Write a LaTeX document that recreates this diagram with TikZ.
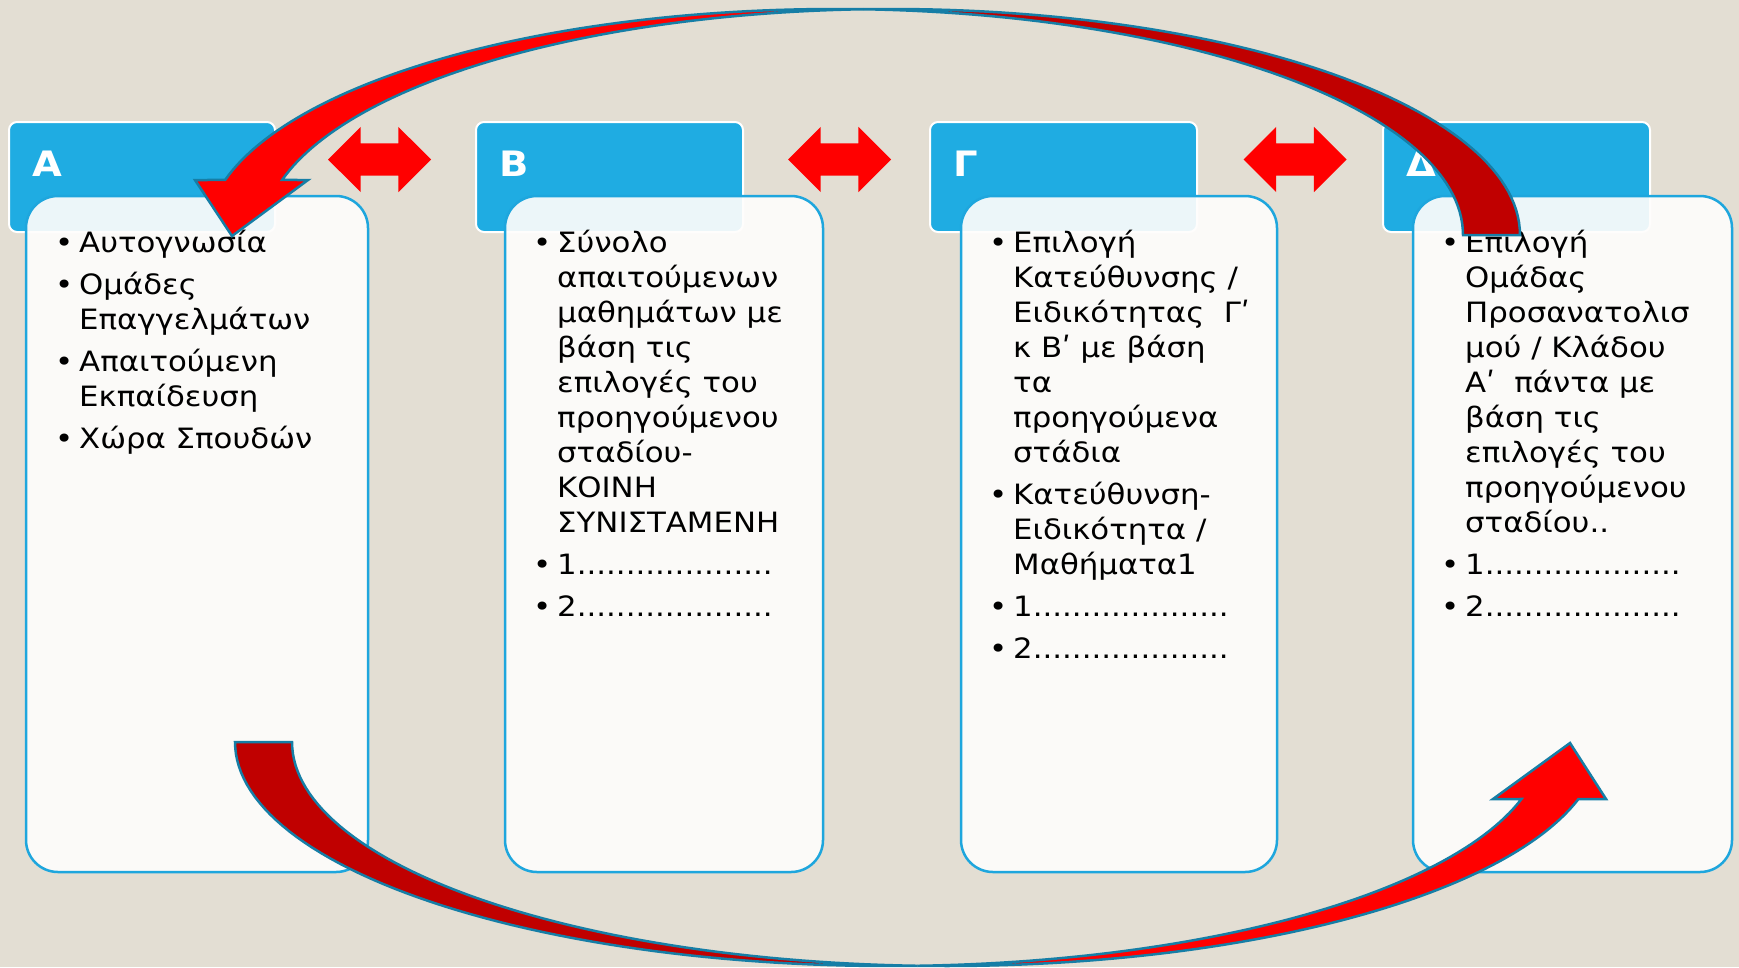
\documentclass[tikz,border=0pt]{standalone}
\usepackage{fontspec}
\setmainfont{DejaVu Sans}[FakeStretch=1.1]
\usetikzlibrary{positioning, shapes.arrows}

\definecolor{bgbeige}{RGB}{227,222,211}
\definecolor{hdblue}{RGB}{31,172,226}
\definecolor{bdblue}{RGB}{30,166,221}
\definecolor{paper}{RGB}{254,253,252}
\definecolor{arrred}{RGB}{255,0,0}
\definecolor{arrdark}{RGB}{192,0,0}
\definecolor{arrline}{RGB}{22,126,166}

\tikzset{headbox/.style={draw=white, line width=2pt, fill=hdblue, rounded corners=8pt, anchor=north west, outer sep=0pt, minimum height=110pt}}
\tikzset{bodybox/.style={draw=bdblue, line width=2.5pt, fill=paper, fill opacity=0.92, rounded corners=32pt, anchor=north west, outer sep=0pt, minimum height=676pt}}
\tikzset{headlbl/.style={anchor=base west, inner sep=0pt, text=white, font=\fontsize{35}{40}\selectfont\bfseries}}
\tikzset{itemtxt/.style={anchor=north west, inner sep=0pt, align=left, font=\fontsize{28}{35}\selectfont}}
\tikzset{dblarr/.style={double arrow, fill=arrred, inner xsep=0pt, inner ysep=16pt, minimum height=103pt, double arrow head extend=16.5pt}}
\tikzset{bigarr/.style={draw=arrline, line width=2.5pt, samples=60}}

\newcommand{\bul}{\strut\makebox[24pt][l]{\textbullet}}
\newcommand{\cont}{\hspace*{24pt}}

\begin{document}
\begin{tikzpicture}[x=1pt, y=-1pt]
	\useasboundingbox[fill=bgbeige] (0,0) rectangle (1739,967);
	% stage headers
	\node[headbox, minimum width=266pt] (hdA) at (9,122) {};
	\node[headbox, minimum width=267pt] (hdB) at (476,122) {};
	\node[headbox, minimum width=267pt] (hdG) at (930,122) {};
	\node[headbox, minimum width=267pt] (hdD) at (1383,122) {};
	\node[headlbl] (lblA) at (32,176) {Α};
	\node[headlbl] (lblB) at (499,176) {Β};
	\node[headlbl] (lblG) at (953,176) {Γ};
	\node[headlbl] (lblD) at (1406,176) {Δ};
	% stage bodies
	\node[bodybox, minimum width=342pt] (bdA) at (26,196) {};
	\node[bodybox, minimum width=318pt] (bdB) at (505,196) {};
	\node[bodybox, minimum width=316pt] (bdG) at (961,196) {};
	\node[bodybox, minimum width=319pt] (bdD) at (1413,196) {};
	\node[itemtxt] (txA) at (55,227.5) {%
		\bul Αυτογνωσία\\[7pt]
		\bul Ομάδες\\
		\cont Επαγγελμάτων\\[7pt]
		\bul Απαιτούμενη\\
		\cont Εκπαίδευση\\[7pt]
		\bul Χώρα Σπουδών};
	\node[itemtxt] (txB) at (533,227.5) {%
		\bul Σύνολο\\
		\cont απαιτούμενων\\
		\cont μαθημάτων με\\
		\cont βάση τις\\
		\cont επιλογές του\\
		\cont προηγούμενου\\
		\cont σταδίου-\\
		\cont ΚΟΙΝΗ\\
		\cont ΣΥΝΙΣΤΑΜΕΝΗ\\[7pt]
		\bul 1....................\\[7pt]
		\bul 2....................};
	\node[itemtxt] (txG) at (989,227.5) {%
		\bul Επιλογή\\
		\cont Κατεύθυνσης /\\
		\cont Ειδικότητας\ \ Γʹ\\
		\cont κ Βʹ με βάση\\
		\cont τα\\
		\cont προηγούμενα\\
		\cont στάδια\\[7pt]
		\bul Κατεύθυνση-\\
		\cont Ειδικότητα /\\
		\cont Μαθήματα1\\[7pt]
		\bul 1....................\\[7pt]
		\bul 2....................};
	\node[itemtxt] (txD) at (1441,227.5) {%
		\bul Επιλογή\\
		\cont Ομάδας\\
		\cont Προσανατολισ\\
		\cont μού / Κλάδου\\
		\cont Αʹ\ \ πάντα με\\
		\cont βάση τις\\
		\cont επιλογές του\\
		\cont προηγούμενου\\
		\cont σταδίου..\\[7pt]
		\bul 1....................\\[7pt]
		\bul 2....................};
	% two-way arrows between stages
	\node[dblarr] (arrAB) at (379.5,159.5) {};
	\node[dblarr] (arrBG) at (839.5,159.5) {};
	\node[dblarr] (arrGD) at (1295,159.5) {};
	% big curved arrow over the top (back part, then front part with head)
	\filldraw[bigarr, fill=arrdark]
		plot[domain=267.4:360] ({891.6+628.4*cos(\x)},{235+226*sin(\x)})
		-- plot[domain=360:272.6] ({834.6+628.4*cos(\x)},{235+226*sin(\x)}) -- cycle;
	\filldraw[bigarr, fill=arrred]
		plot[domain=194.09:272.6] ({834.6+628.4*cos(\x)},{235+226*sin(\x)})
		-- plot[domain=267.4:194.09] ({891.6+628.4*cos(\x)},{235+226*sin(\x)})
		-- (308,180) -- (232,236) -- (195,180) -- cycle;
	% big curved arrow under the bottom
	\filldraw[bigarr, fill=arrdark]
		plot[domain=180:87.5] ({889+654*cos(\x)},{742+224*sin(\x)})
		-- plot[domain=92.5:180] ({946+654*cos(\x)},{742+224*sin(\x)}) -- cycle;
	\filldraw[bigarr, fill=arrred]
		plot[domain=92.5:14.74] ({946+654*cos(\x)},{742+224*sin(\x)})
		-- (1606,799) -- (1570,743) -- (1493,799)
		-- plot[domain=14.74:87.5] ({889+654*cos(\x)},{742+224*sin(\x)}) -- cycle;
\end{tikzpicture}
\end{document}
